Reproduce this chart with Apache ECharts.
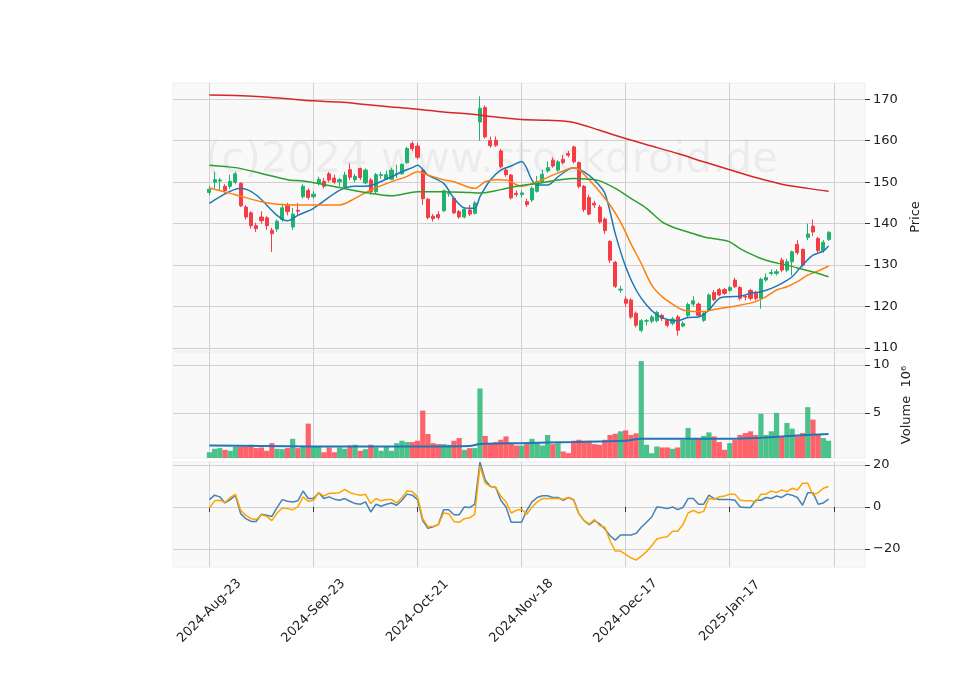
<!DOCTYPE html>
<html>
<head>
<meta charset="utf-8">
<script src="https://cdn.jsdelivr.net/npm/echarts@6/dist/echarts.min.js"></script>
<style>html,body{margin:0;background:#fff}#c{width:960px;height:690px}</style>
</head>
<body>
<div id="c"></div>
<script>
// price data (index 0..119, trading days)
var opens = [147.5,150.0,150.3,149.0,149.0,150.0,149.7,144.0,142.6,139.5,141.6,141.4,138.4,138.7,141.0,144.3,139.2,143.2,146.5,148.0,
  146.5,149.7,150.2,152.0,151.0,150.1,148.7,153.0,150.6,153.3,149.8,150.5,147.7,151.6,150.7,150.7,152.0,152.0,154.7,159.3,
  158.7,152.9,145.9,141.8,142.2,143.1,147.2,146.1,142.9,141.6,143.3,142.5,164.5,168.0,160.0,160.1,157.5,152.9,151.7,147.3,
  147.0,145.3,145.7,147.8,150.1,152.7,155.3,152.9,155.5,156.9,158.5,154.7,149.0,146.3,144.9,144.0,141.1,135.7,130.7,124.0,
  121.8,121.6,118.4,114.3,116.5,116.5,116.6,117.9,116.7,116.0,117.5,115.3,117.9,120.6,120.6,116.7,119.2,123.4,124.1,124.1,
  123.9,126.4,124.6,122.5,123.9,123.2,122.0,126.4,128.0,128.0,131.2,128.8,130.8,135.0,133.8,136.7,139.4,136.4,133.6,136.2];
var closes = [148.3,150.6,150.5,148.0,150.2,152.0,144.3,141.6,139.5,138.8,140.7,139.5,137.6,140.6,143.8,142.9,142.3,143.0,149.0,146.3,
  147.1,150.7,149.0,150.5,150.0,150.6,151.7,151.2,151.4,151.1,152.9,147.7,151.8,151.8,151.8,152.9,152.1,154.3,158.1,158.1,
  156.0,146.0,141.5,141.2,141.5,147.9,147.4,142.6,141.6,143.5,142.3,145.0,167.8,160.9,158.8,158.9,153.7,151.8,146.2,147.0,
  147.4,144.6,148.5,150.1,151.9,153.5,153.9,154.9,154.7,156.5,154.9,149.0,143.4,142.3,144.5,140.4,138.3,131.2,124.9,124.2,
  120.8,117.5,115.5,116.6,116.6,117.5,118.6,117.1,115.5,117.0,114.3,115.9,120.5,121.4,117.9,118.4,122.8,121.7,122.8,123.2,
  124.6,124.8,122.0,122.3,122.0,122.0,126.6,127.0,128.2,128.4,128.8,130.8,133.2,133.0,130.0,137.5,138.0,133.5,135.5,137.9];
var lows = [146.8,148.5,148.0,147.5,148.3,149.5,144.0,141.0,138.8,138.0,140.0,138.5,133.2,138.0,140.5,142.0,138.5,142.0,146.0,145.8,
  146.0,149.2,148.5,150.0,149.5,149.0,148.3,150.5,150.0,150.5,149.5,147.0,147.2,150.8,150.5,150.5,151.0,151.8,154.5,157.5,
  155.5,144.5,141.0,140.5,141.0,142.8,146.5,142.3,141.2,141.3,141.8,142.2,160.0,160.5,158.3,158.5,153.3,151.3,145.8,146.5,
  146.3,144.0,145.2,147.5,149.8,152.3,153.5,152.5,154.3,156.0,154.5,148.5,142.8,142.0,143.8,140.0,137.5,130.5,124.5,123.3,
  120.0,117.0,115.0,113.8,115.5,116.0,116.2,116.5,115.0,115.5,113.0,115.0,117.5,120.0,117.5,116.3,118.8,121.3,122.5,122.8,
  123.5,124.5,121.5,121.5,121.5,121.5,119.5,126.0,127.5,127.5,128.3,128.3,127.5,132.5,129.5,136.0,137.0,133.0,133.0,135.8];
var highs = [149.0,152.5,151.0,149.5,151.8,152.5,150.0,144.5,143.0,140.2,143.0,141.8,139.0,141.0,144.8,145.0,143.8,145.0,149.5,148.5,
  147.8,151.3,151.0,152.5,151.8,151.0,152.5,154.5,152.0,153.5,153.3,151.0,152.2,152.5,152.8,153.5,154.2,154.5,158.5,159.8,
  159.5,153.5,146.2,142.3,143.0,148.2,148.0,146.5,143.3,144.0,144.5,145.5,170.7,168.5,161.0,161.0,158.0,153.5,152.0,148.0,
  148.0,146.0,149.0,151.5,153.0,155.0,156.0,155.3,156.5,157.5,158.8,155.0,149.3,147.0,145.5,144.5,141.5,136.0,131.0,125.0,
  122.5,122.0,118.8,117.0,117.0,118.0,119.0,118.3,117.0,117.5,118.0,116.5,121.0,122.5,121.0,118.8,123.2,124.0,124.5,124.5,
  125.0,127.0,125.0,123.0,124.3,123.8,127.0,128.0,129.0,129.0,131.8,131.5,133.5,136.0,134.0,140.0,141.0,136.8,136.0,138.2];
var volumes = [0.9,1.26,1.33,1.15,1.05,1.5,1.5,1.5,1.68,1.33,1.4,1.05,1.85,1.26,1.22,1.33,2.3,1.33,1.5,3.88,
  1.5,1.5,0.9,1.4,0.9,1.4,1.26,1.6,1.68,1.05,1.22,1.68,1.4,1.05,1.5,1.05,1.85,2.1,1.96,1.96,
  2.1,5.24,2.8,1.85,1.75,1.75,1.68,2.1,2.38,1.15,1.33,1.33,7.55,2.6,1.75,1.96,2.2,2.55,1.85,1.6,
  1.6,1.75,2.3,1.85,1.6,2.7,1.75,1.85,0.98,0.8,2.1,2.2,2.1,2.1,1.75,1.68,2.2,2.7,2.83,3.08,
  3.18,2.7,2.87,10.4,1.68,0.8,1.5,1.4,1.4,1.26,1.4,2.2,3.43,2.3,2.38,2.6,2.97,2.55,1.96,1.15,
  1.85,2.2,2.7,2.9,3.08,2.7,4.9,2.7,3.08,5.0,2.55,3.95,3.36,2.55,2.9,5.6,4.3,2.7,2.38,2.1];
// moving averages, [index, value]
var ma10 = [[0,144.9],[6,148.5],[9,146.9],[13,142],[15,140.7],[17,142],[20,143.7],[25,148],[28,149],[30,149],[35,151.3],[37,152.5],
  [39,153.5],[40,154.1],[42,151.7],[45,149.7],[47,146.1],[49,143.8],[51,143.7],[52,146.5],[54,150.5],[56,152.9],[58,153.9],[60,155],
  [62,150.5],[63,149.3],[65,149.3],[67,151.3],[69,153.1],[70,153.5],[72,152.5],[74,150.5],[76,147.3],[78,137.6],[80,129.6],[82,124],
  [84,120.4],[86,118],[88,116.9],[90,116.6],[92,117.4],[94,117.5],[96,119.2],[98,122],[100,122.4],[102,122.5],[104,123.2],[106,123.6],
  [108,124.4],[110,125.6],[112,127.2],[114,130],[116,132.4],[118,133.4],[119,134.6]];
var ma20 = [[0,148.6],[4,147.3],[6,146.6],[10,145.3],[13,144.7],[17,144.5],[25,144.5],[28,146.1],[31,148.1],[35,150.1],[38,151.4],
  [40,152.5],[42,151.7],[45,150.6],[47,150.1],[50,148.7],[51,148.5],[53,150.1],[55,150.6],[57,150.5],[60,149],[63,150.1],[66,151.7],
  [68,152.7],[70,153.5],[71,153.1],[73,150.5],[75,147.7],[77,144.5],[79,140.4],[81,135.2],[83,130.4],[85,125.2],[87,122.4],[89,120.6],
  [91,119.2],[93,118.8],[95,118.8],[97,119.3],[99,119.7],[101,120.1],[103,120.6],[105,121.2],[107,122.4],[109,124],[111,124.8],
  [113,126],[115,127.6],[117,128.6],[119,129.8]];
var ma50 = [[0,154.1],[5,153.5],[10,152.1],[15,150.6],[18,150.3],[21,149.7],[25,148.7],[30,147.5],[35,146.7],[40,147.7],[45,147.7],
  [50,147.5],[52,147.4],[56,148.2],[59,149],[63,149.7],[67,150.5],[70,150.9],[73,150.7],[75,150.3],[78,148.5],[81,146.1],[84,143.7],
  [87,140.4],[89,139.2],[92,138],[95,136.8],[98,136.2],[100,135.6],[102,134],[104,132.7],[106,131.6],[108,130.8],[111,130],[114,129],
  [117,128],[119,127.2]];
var ma200 = [[0,171],[5,170.9],[10,170.6],[15,170.1],[20,169.6],[25,169.3],[30,168.7],[35,168.1],[40,167.6],[45,166.9],[50,166.4],
  [55,165.7],[60,165.1],[65,164.9],[70,164.4],[75,162.5],[80,160.5],[85,158.7],[90,156.9],[95,154.9],[100,153],[105,151.1],
  [110,149.5],[115,148.5],[119,147.8]];
var volMa = [[0,1.6],[10,1.55],[20,1.5],[30,1.5],[40,1.5],[50,1.55],[52,1.75],[60,1.85],[70,1.96],[80,2.1],[83,2.3],[90,2.3],
  [100,2.3],[105,2.38],[110,2.55],[119,2.8]];
// oscillator
var oscBlue = [3.5,5.6,4.8,1.9,3.5,5.6,-3.2,-5.6,-6.9,-6.9,-3.5,-4,-4.5,-0.3,3.5,2.7,2.4,2.9,7.6,4,
  4,6.8,4,4.8,3.7,3.2,4,2.7,1.6,1.3,2.4,-2.4,1.3,0.3,1.3,1.9,0.8,3.2,6.1,5.6,
  3.5,-6.5,-10.2,-9.4,-8.4,-1.3,-1.3,-3.7,-3.7,0,-0.3,1.3,21.3,12.9,9.7,9.4,3.2,0,-7.3,-7.3,
  -7.3,-1.6,2.4,4.5,5.3,5.3,4.5,4.5,3.2,4.5,3.5,-3.2,-6.5,-8.5,-6.5,-8.1,-10.5,-13.7,-15.8,-13.4,
  -13.4,-13.4,-12.6,-9.7,-7.3,-4.8,0,-0.3,-0.8,0,-1.3,-0.3,4,4,1.3,1.3,5.6,4,3.5,3.5,
  3.5,3.2,0,-0.3,-0.3,3.2,3.2,4.5,4,5.2,4.5,6.1,5.6,4.5,0.8,6.8,6.8,1.3,1.9,3.7];
var oscOrange = [-0.5,2.9,3.2,2.1,4.5,6,-1.6,-4,-5.6,-6,-3.7,-4.5,-6.5,-2.9,-0.5,-0.8,-1.3,0,4.8,2.7,
  3.2,6.8,5.2,6.5,6.5,6.8,8.4,6.8,6.1,5.6,6,1.6,4,2.9,3.5,3.5,1.9,4.5,7.6,7.3,
  4.8,-5.6,-9.4,-9.2,-8.5,-2.9,-3.2,-6.9,-7.3,-5.6,-5.2,-3.5,19.4,11.3,9.7,9.4,5.2,2.4,-2.9,-1.6,
  -1.1,-3.5,0,2.4,4,4,4,4,3.7,4.5,3.2,-3.2,-6.5,-8.1,-6,-8.9,-9.7,-16.1,-21,-21,
  -22.6,-24.2,-25.3,-23.4,-21.3,-18.5,-15.3,-14.5,-14.2,-11.6,-11.6,-8.4,-2.9,-1.6,-2.9,-2.1,4,3.7,4.8,5.2,
  6.1,6.1,3.2,2.9,2.9,2.4,6.1,6.1,7.6,6.8,8.1,7.3,8.9,8.1,11.3,11.3,5.6,6.8,8.9,9.7];
var tickLabels = ['2024-Aug-23','2024-Sep-23','2024-Oct-21','2024-Nov-18','2024-Dec-17','2025-Jan-17',''];

var PAD = 7, N = opens.length + 2 * PAD;
var FONT = 'DejaVu Sans';
var cats = [];
for (var k = 0; k < N; k++) cats.push(k);
var isTick = function (idx) { return (idx - PAD) % 20 === 0 && idx >= PAD; };

var UP = '#1fb36f', DOWN = '#f63c45';
var candles = [], vols = [], i;
for (i = 0; i < PAD; i++) { candles.push('-'); vols.push('-'); }
for (i = 0; i < opens.length; i++) {
    candles.push([opens[i], closes[i], lows[i], highs[i]]);
    vols.push({value: volumes[i], itemStyle: {color: closes[i] >= opens[i] ? 'rgba(31,179,111,0.8)' : 'rgba(255,60,70,0.8)'}});
}
var shift = function (arr) { return arr.map(function (p) { return [p[0] + PAD, p[1]]; }); };
var withIdx = function (arr) { return arr.map(function (v, j) { return [j + PAD, v]; }); };

var gridBase = {left: 173, right: 95, show: true, backgroundColor: '#f9f9f9', borderColor: '#eeeeee'};
var grids = [
    Object.assign({top: 83, height: 268}, gridBase),
    Object.assign({top: 352, height: 106}, gridBase),
    Object.assign({top: 462, height: 105}, gridBase)
];
var xAxes = [0, 1, 2].map(function (g) {
    return {
        type: 'category', gridIndex: g, data: cats, boundaryGap: false,
        axisLine: {show: false},
        axisTick: {show: g === 2, interval: function (idx) { return isTick(idx); }, length: 5, lineStyle: {color: '#333'}},
        axisLabel: {show: g === 2, interval: function (idx) { return isTick(idx); }, rotate: 45, fontSize: 13, color: '#222',
            fontFamily: FONT, align: 'center', verticalAlign: 'middle', margin: 44,
            formatter: function (v) { return tickLabels[(v - PAD) / 20] || ''; }},
        splitLine: {show: true, interval: function (idx) { return isTick(idx); }, lineStyle: {color: '#d0d0d0'}}
    };
});
var yAxis = function (g, min, max, vals, name, gap) {
    return {
        type: 'value', gridIndex: g, position: 'right', min: min, max: max, scale: true,
        name: name, nameLocation: 'middle', nameRotate: 90, nameGap: gap,
        nameTextStyle: {fontSize: 13, color: '#222', fontFamily: FONT},
        axisLine: {show: false},
        axisTick: {show: true, length: 5, lineStyle: {color: '#333'}, customValues: vals},
        axisLabel: {fontSize: 13, color: '#222', margin: 8, fontFamily: FONT, customValues: vals,
            formatter: function (v) { return String(v).replace('-', '\u2212'); }},
        splitLine: {show: true, lineStyle: {color: '#d0d0d0'}}
    };
};
var line = function (data, color, xi, w) {
    return {type: 'line', xAxisIndex: xi, yAxisIndex: xi, data: data, showSymbol: false, smooth: 0.3,
        lineStyle: {color: color, width: w || 1.5}, z: 3, silent: true};
};

var chart = echarts.init(document.getElementById('c'));
chart.setOption({
    animation: false,
    grid: grids,
    xAxis: xAxes,
    yAxis: [
        yAxis(0, 109.3, 173.9, [110, 120, 130, 140, 150, 160, 170], 'Price', 40),
        yAxis(1, 0.3, 11.35, [5, 10], 'Volume  10\u2076', 34),
        yAxis(2, -28.6, 21.4, [-20, 0, 20], '', 30)
    ],
    graphic: [{
        type: 'text', left: 205, top: 140, silent: true, z: 0,
        style: {text: '(c)2024 www.stockdroid.de', fontSize: 42, fill: 'rgba(0,0,0,0.05)', fontFamily: FONT}
    }],
    series: [
        {type: 'candlestick', xAxisIndex: 0, yAxisIndex: 0, data: candles, barWidth: 3.6,
            itemStyle: {color: UP, color0: DOWN, borderColor: UP, borderColor0: DOWN, borderWidth: 1}},
        line(shift(ma10), '#1f77b4'),
        line(shift(ma20), '#ff7f0e'),
        line(shift(ma50), '#2ca02c'),
        line(shift(ma200), '#d62728'),
        {type: 'bar', xAxisIndex: 1, yAxisIndex: 1, data: vols, barWidth: 5.2},
        line(shift(volMa), '#1f77b4', 1, 2),
        {type: 'line', xAxisIndex: 2, yAxisIndex: 2, data: withIdx(oscBlue), showSymbol: false,
            lineStyle: {color: '#4682b4', width: 1.5}},
        {type: 'line', xAxisIndex: 2, yAxisIndex: 2, data: withIdx(oscOrange), showSymbol: false,
            lineStyle: {color: '#ffa500', width: 1.5}}
    ]
});
</script>
</body>
</html>
